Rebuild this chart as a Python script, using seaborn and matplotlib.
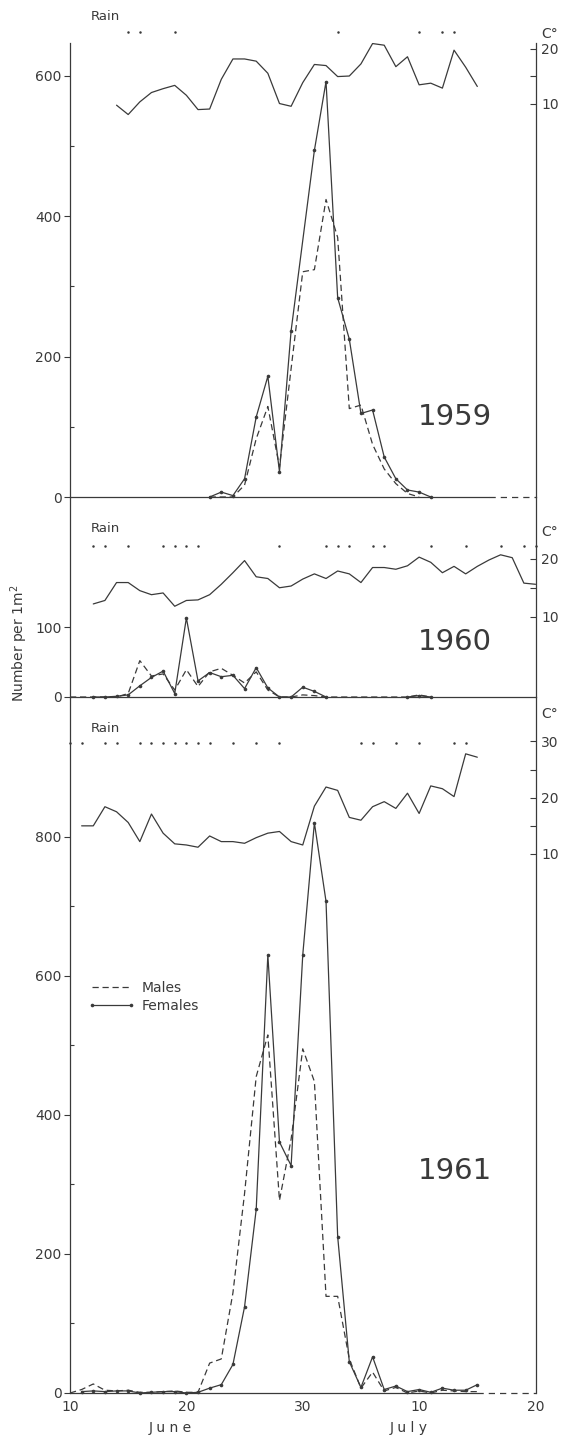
import seaborn as sns
import matplotlib.pyplot as plt
from matplotlib.lines import Line2D
from matplotlib.transforms import blended_transform_factory

# day 0 = 10 June, 20 = 30 June, 30 = 10 July, 40 = 20 July
# ---- 1959
fem_days_1959 = [12, 13, 14, 15, 16, 17, 18, 19, 21, 22, 23, 24, 25, 26, 27, 28, 29, 30, 31]
females_1959 = [0, 7, 2, 26, 114, 172, 36, 237, 494, 592, 284, 225, 119, 124, 57, 26, 10, 7, 0]
male_days_1959 = list(range(12, 31))
males_1959 = [0, 0, 0, 17, 83, 129, 43, 183, 321, 324, 424, 370, 126, 131, 75, 40, 19, 5, 0]
temp_days_1959 = list(range(4, 36))
temp_1959 = [9.7, 8.0, 10.3, 12.0, 12.7, 13.3, 11.5, 8.9, 9.0, 14.4, 18.1, 18.1, 17.7, 15.5,
             10.0, 9.5, 13.8, 17.1, 16.9, 14.9, 15.0, 17.2, 20.9, 20.6, 16.7, 18.5, 13.4, 13.7,
             12.8, 19.7, 16.6, 13.1]
rain_1959 = [5, 6, 9, 23, 30, 32, 33]
end_1959 = 36

# ---- 1960
fem_days_1960 = list(range(2, 23))
females_1960 = [0, 0, 1, 3, 16, 28, 37, 5, 113, 23, 35, 29, 31, 12, 42, 13, 0, 0, 14, 8, 0]
fem_late_days_1960 = [29, 30, 31]
females_late_1960 = [0, 2, 0]
male_days_1960 = list(range(0, 32))
males_1960 = [0, 0, 0, 0, 0, 5, 52, 30, 33, 10, 39, 15, 36, 41, 31, 20, 36, 10, 0, 0,
              3, 2, 0, 0, 0, 0, 0, 0, 0, 0, 3, 0]
temp_days_1960 = list(range(2, 41))
temp_1960 = [12.2, 12.8, 15.9, 15.9, 14.5, 13.8, 14.1, 11.8, 12.8, 12.9, 13.8, 15.6, 17.6,
             19.7, 16.9, 16.6, 15.0, 15.3, 16.5, 17.4, 16.6, 17.9, 17.4, 15.9, 18.5, 18.5,
             18.2, 18.8, 20.3, 19.4, 17.6, 18.7, 17.4, 18.7, 19.8, 20.7, 20.2, 15.8, 15.6]
rain_1960 = [2, 3, 5, 8, 9, 10, 11, 18, 22, 23, 24, 26, 27, 31, 34, 37, 39, 40]
end_1960 = 40

# ---- 1961
fem_days_1961 = list(range(1, 36))
females_1961 = [2, 3, 2, 3, 3, 0, 1, 2, 2, 0, 1, 7, 12, 41, 124, 264, 630, 361, 327, 630,
                820, 707, 225, 45, 8, 52, 5, 10, 2, 5, 1, 7, 4, 4, 12]
male_days_1961 = list(range(0, 36))
males_1961 = [0, 5, 13, 4, 3, 4, 1, 1, 2, 3, 1, 1, 43, 49, 144, 287, 455, 515, 277, 365,
              495, 448, 139, 139, 49, 7, 30, 3, 8, 0, 3, 0, 4, 3, 2, 2]
temp_days_1961 = list(range(1, 36))
temp_1961 = [15.0, 15.0, 18.4, 17.5, 15.6, 12.2, 17.1, 13.7, 11.8, 11.6, 11.2, 13.2, 12.2,
             12.2, 11.9, 12.9, 13.7, 14.0, 12.2, 11.6, 18.5, 21.9, 21.3, 16.5, 16.0, 18.4,
             19.3, 18.1, 20.8, 17.2, 22.1, 21.6, 20.2, 27.8, 27.2]
rain_1961 = [0, 1, 3, 4, 6, 7, 8, 9, 10, 11, 12, 14, 16, 18, 25, 26, 28, 30, 33, 34]
end_1961 = 35

x_labels = ["10", "20", "30", "10", "20"]

sns.set_style("white")
plt.rcParams["font.family"] = ["DejaVu Sans"]
ink = "#3a3a3a"
W, H = 574, 1437


def fx(px):
    return px / W


def fy(py):
    return 1 - py / H


fig = plt.figure(figsize=(W / 100, H / 100), dpi=100)

panels = [
    dict(year="1959", top=43, bot=497, ylim=647, tlim=(-61.5, 21.0), yt=[0, 200, 400, 600],
         ym=[100, 300, 500], tt=[10, 20], tm=[15], rain_y=1.024, label_y=114,
         fd=[fem_days_1959], f=[females_1959], md=male_days_1959, m=males_1959,
         td=temp_days_1959, t=temp_1959, rain=rain_1959, end=end_1959),
    dict(year="1960", top=497, bot=697, ylim=286, tlim=(-3.9, 30.7), yt=[0, 100],
         ym=[], tt=[10, 20], tm=[15], rain_y=0.755, label_y=79,
         fd=[fem_days_1960, fem_late_days_1960], f=[females_1960, females_late_1960],
         md=male_days_1960, m=males_1960,
         td=temp_days_1960, t=temp_1960, rain=rain_1960, end=end_1960),
    dict(year="1961", top=697, bot=1393, ylim=1001, tlim=(-85.8, 37.9), yt=[0, 200, 400, 600, 800],
         ym=[100, 300, 500, 700], tt=[10, 20, 30], tm=[15, 25], rain_y=0.934, label_y=320,
         fd=[fem_days_1961], f=[females_1961], md=male_days_1961, m=males_1961,
         td=temp_days_1961, t=temp_1961, rain=rain_1961, end=end_1961),
]

axes = []
for i, p in enumerate(panels):
    ax = fig.add_axes([fx(70), fy(p["bot"]), fx(535.5) - fx(70), (p["bot"] - p["top"]) / H])
    axt = ax.twinx()
    ax.set_facecolor("none")
    axt.set_facecolor("none")
    axes.append(ax)

    # counts
    sns.lineplot(x=p["md"], y=p["m"], ax=ax, color=ink, linewidth=0.9,
                 linestyle=(0, (5, 3)), clip_on=False)
    for fd, f in zip(p["fd"], p["f"]):
        sns.lineplot(x=fd, y=f, ax=ax, color=ink, linewidth=0.9,
                     marker="o", markersize=2.6, markeredgewidth=0, clip_on=False)
    # baseline: solid while sampling, dashed afterwards
    ax.plot([0, p["end"]], [0, 0], color=ink, lw=0.9, clip_on=False)
    if p["end"] < 40:
        ax.plot([p["end"], 40], [0, 0], color=ink, lw=0.9, ls=(0, (5, 4)), clip_on=False)

    # temperature
    sns.lineplot(x=p["td"], y=p["t"], ax=axt, color=ink, linewidth=0.9)

    # rain days
    tr = blended_transform_factory(ax.transData, ax.transAxes)
    ax.plot(p["rain"], [p["rain_y"]] * len(p["rain"]), "o", color=ink, ms=1.8,
            mew=0, transform=tr, clip_on=False)

    ax.set_xlim(0, 40)
    ax.set_ylim(0, p["ylim"])
    axt.set_ylim(*p["tlim"])
    ax.set_xlabel("")
    ax.set_ylabel("")
    axt.set_ylabel("")

    for s in ["top", "right", "bottom"]:
        ax.spines[s].set_visible(False)
    for s in ["top", "left", "bottom"]:
        axt.spines[s].set_visible(False)
    ax.spines["left"].set_color(ink)
    ax.spines["left"].set_linewidth(0.9)
    axt.spines["right"].set_color(ink)
    axt.spines["right"].set_linewidth(0.9)

    ax.set_xticks([0, 10, 20, 30, 40])
    ax.set_xticks([5, 15, 25, 35], minor=True)
    ax.tick_params(axis="x", which="both", direction="in", length=4, width=0.8,
                   color=ink, labelsize=10, labelcolor=ink, pad=5)
    if i < 2:
        ax.tick_params(axis="x", labelbottom=False)
    else:
        ax.set_xticklabels(x_labels)

    ax.set_yticks(p["yt"])
    ax.set_yticks(p["ym"], minor=True)
    ax.tick_params(axis="y", which="major", direction="out", length=4, width=0.8,
                   color=ink, labelsize=10, labelcolor=ink, pad=2)
    ax.tick_params(axis="y", which="minor", direction="in", length=3, width=0.8, color=ink)

    axt.set_yticks(p["tt"])
    axt.set_yticks(p["tm"], minor=True)
    axt.tick_params(axis="y", which="both", direction="in", length=4, width=0.8,
                    color=ink, labelsize=10, labelcolor=ink, pad=4)

    ax.text(33.1, p["label_y"], p["year"], fontsize=21, color=ink, ha="center", va="center")

# text outside the plotting areas
for ry in [17, 529, 728]:
    fig.text(fx(91), fy(ry), "Rain", fontsize=9.5, color=ink, ha="left", va="center")
for cy in [34, 532, 714]:
    fig.text(fx(541), fy(cy), "C°", fontsize=10, color=ink, ha="left", va="center")

fig.text(fx(19), fy(643), "Number per 1m$^2$", rotation=90, fontsize=10, color=ink,
         ha="center", va="center")
fig.text(fx(170), fy(1428), "J u n e", fontsize=10, color=ink, ha="center", va="center")
fig.text(fx(409), fy(1428), "J u l y", fontsize=10, color=ink, ha="center", va="center")

handles = [
    Line2D([], [], color=ink, lw=0.9, ls=(0, (5, 3))),
    Line2D([], [], color=ink, lw=0.9, marker="o", ms=2.6, mew=0),
]
axes[2].legend(handles, ["Males", "Females"], loc="upper left",
               bbox_to_anchor=(fx(88), fy(981)), bbox_transform=fig.transFigure,
               frameon=False, fontsize=10, handlelength=3.4, handletextpad=0.45,
               labelspacing=0.3, borderpad=0, borderaxespad=0, numpoints=2,
               labelcolor=ink)

fig.savefig("out.png", dpi=100)
